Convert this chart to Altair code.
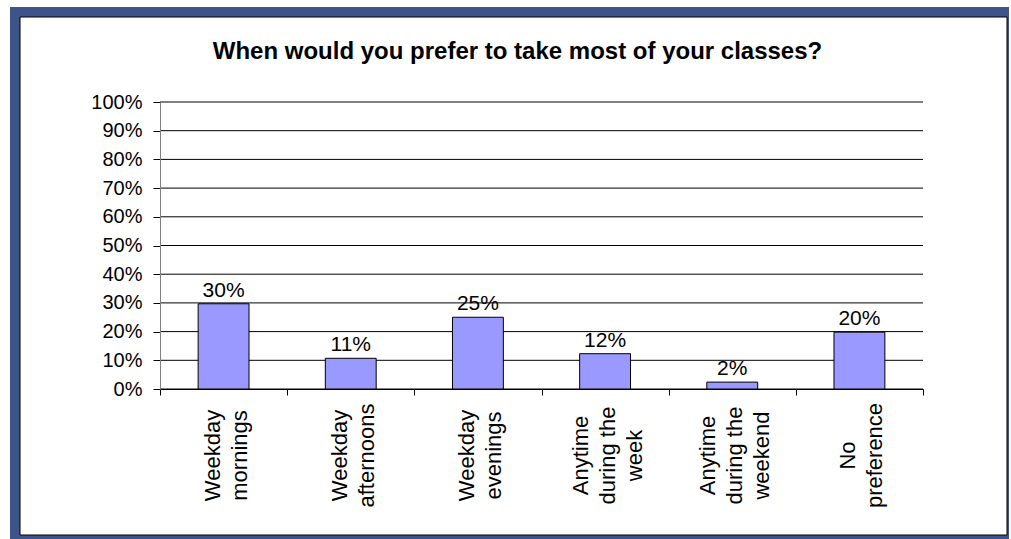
import altair as alt
import pandas as pd

categories = [
    "Weekday|mornings",
    "Weekday|afternoons",
    "Weekday|evenings",
    "Anytime|during the|week",
    "Anytime|during the|weekend",
    "No|preference",
]
values = [29.7, 10.7, 25.0, 12.3, 2.4, 19.8]
labels = ["30%", "11%", "25%", "12%", "2%", "20%"]
y_ticks = [0, 10, 20, 30, 40, 50, 60, 70, 80, 90, 100]
title_text = "When would you prefer to take most of your classes?"

FONT = "Liberation Sans"
BLUE = "#3E5389"
W, H = 763, 287
LH = 27

df = pd.DataFrame({"cat": categories, "value": values, "label": labels})
grid_df = pd.DataFrame({"v": y_ticks})
one = pd.DataFrame({"a": [0]})

y_scale = alt.Scale(domain=[0, 100], nice=False, zero=True)
y_axis = alt.Axis(
    title=None, values=y_ticks, labelExpr="datum.value + '%'", grid=False,
    tickSize=7, labelPadding=11, labelFontSize=20, labelFont=FONT,
    labelColor="black", domainColor="#808080", tickColor="black", zindex=1,
)
x_enc = alt.X(
    "cat:N", sort=categories,
    scale=alt.Scale(paddingInner=0, paddingOuter=0),
    axis=alt.Axis(
        title=None, labelExpr="split(datum.label, '|')", labelAngle=270,
        labelAlign="center", labelBaseline="middle", labelFontSize=22,
        labelFont=FONT, labelLineHeight=LH, labelPadding=60, tickSize=6,
        labelOffset={
            "condition": {"test": "length(split(datum.value, '|')) == 3",
                          "value": 2 - LH},
            "value": 2 - LH / 2,
        },
        tickBand="extent", domainColor="black", tickColor="black",
        labelColor="black", zindex=1,
    ),
)

frame_blue = alt.Chart(one).mark_rect(color=BLUE).encode(
    x=alt.value(-150), x2=alt.value(849), y=alt.value(-95), y2=alt.value(437)
)
frame_white = alt.Chart(one).mark_rect(
    fill="white", stroke="black", strokeWidth=1
).encode(x=alt.value(-140), x2=alt.value(847), y=alt.value(-85), y2=alt.value(433))

grid = alt.Chart(grid_df).mark_rule(color="black", strokeWidth=1).encode(
    y=alt.Y("v:Q", scale=y_scale, axis=y_axis),
    x=alt.value(0), x2=alt.value(W),
)

bars = alt.Chart(df).mark_bar(
    fill="#9999FF", stroke="black", strokeWidth=1,
    width=alt.RelativeBandSize(0.4),
).encode(
    x=x_enc,
    y=alt.Y("value:Q", scale=y_scale, axis=y_axis),
)

text = alt.Chart(df).mark_text(
    dy=-7, baseline="alphabetic", fontSize=21, font=FONT, color="black"
).encode(
    x=x_enc,
    y=alt.Y("value:Q", scale=y_scale, axis=y_axis),
    text="label:N",
)

chart = alt.layer(frame_blue, frame_white, grid, bars, text).properties(
    width=W, height=H,
    autosize=alt.AutoSizeParams(type="none"),
    padding={"left": 160, "top": 102, "right": 88, "bottom": 150},
    title=alt.Title(
        title_text, fontSize=24, font=FONT, fontWeight="bold", anchor="middle",
        dx=-24, offset=-57, zindex=1, color="black",
    ),
).configure(background="white").configure_view(stroke=None)

chart.save("out.html", embed_options={"renderer": "svg", "actions": False})
